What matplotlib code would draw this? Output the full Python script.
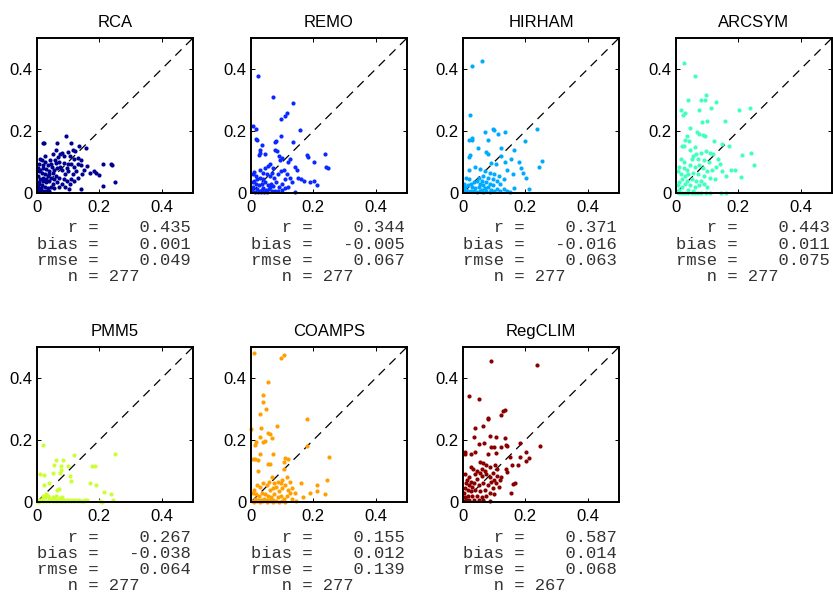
import matplotlib
matplotlib.use("Agg")
import matplotlib.pyplot as plt
import numpy as np

models = ["RCA", "REMO", "HIRHAM", "ARCSYM", "PMM5", "COAMPS", "RegCLIM"]
colors = ["#000090", "#0a28ff", "#00aaff", "#40ffbf", "#ccff33", "#ffa000", "#8a0000"]

# statistics printed under each panel
r_vals = [0.435, 0.344, 0.371, 0.443, 0.267, 0.155, 0.587]
bias_vals = [0.001, -0.005, -0.016, 0.011, -0.038, 0.012, 0.014]
rmse_vals = [0.049, 0.067, 0.063, 0.075, 0.064, 0.139, 0.068]
n_vals = [277, 277, 277, 277, 277, 277, 267]

rca_pts = [(0.093,0.185),(0.018,0.162),(0.022,0.162),(0.064,0.162),(0.108,0.160),(0.134,0.153),(0.158,0.145),
    (0.050,0.127),(0.080,0.130),(0.098,0.133),(0.116,0.138),(0.122,0.135),(0.075,0.125),(0.088,0.120),
    (0.105,0.118),(0.068,0.115),(0.118,0.110),(0.130,0.112),(0.142,0.105),(0.010,0.110),(0.015,0.105),
    (0.025,0.100),(0.005,0.095),(0.035,0.090),(0.045,0.095),(0.060,0.098),(0.070,0.100),(0.085,0.098),
    (0.100,0.092),(0.110,0.095),(0.120,0.085),(0.140,0.090),(0.160,0.086),(0.132,0.092),(0.210,0.095),
    (0.237,0.094),(0.240,0.090),(0.182,0.070),(0.190,0.065),(0.200,0.058),(0.170,0.066),(0.150,0.075),
    (0.145,0.060),(0.125,0.070),(0.115,0.060),(0.100,0.072),(0.095,0.080),(0.090,0.060),(0.080,0.075),
    (0.075,0.085),(0.065,0.080),(0.055,0.075),(0.050,0.065),(0.040,0.070),(0.030,0.078),(0.020,0.080),
    (0.010,0.075),(0.005,0.070),(0.015,0.065),(0.025,0.060),(0.035,0.055),(0.045,0.050),(0.055,0.045),
    (0.060,0.055),(0.070,0.050),(0.085,0.045),(0.095,0.040),(0.110,0.045),(0.120,0.040),(0.130,0.050),
    (0.105,0.030),(0.080,0.030),(0.065,0.035),(0.050,0.030),(0.040,0.040),(0.030,0.035),(0.020,0.040),
    (0.010,0.045),(0.005,0.035),(0.015,0.025),(0.025,0.020),(0.035,0.015),(0.045,0.020),(0.055,0.015),
    (0.070,0.020),(0.090,0.018),(0.104,0.013),(0.141,0.013),(0.212,0.022),(0.251,0.034),(0.005,0.010),
    (0.010,0.005),(0.020,0.008),(0.030,0.005),(0.040,0.005),(0.002,0.020),(0.008,0.028),(0.012,0.015),
    (0.018,0.050),(0.028,0.045),(0.038,0.060),(0.048,0.085),(0.058,0.105),(0.020,0.090),(0.004,0.055),
    (0.003,0.080),(0.042,0.108),(0.062,0.140),(0.025,0.120)]

remo_pts = [(0.023,0.378),(0.071,0.309),(0.134,0.290),(0.116,0.258),(0.110,0.250),(0.097,0.240),(0.006,0.215),
    (0.017,0.206),(0.157,0.204),(0.097,0.183),(0.017,0.174),(0.020,0.172),(0.134,0.163),(0.035,0.155),
    (0.030,0.140),(0.028,0.130),(0.025,0.124),(0.080,0.168),(0.078,0.165),(0.046,0.127),(0.076,0.138),
    (0.082,0.135),(0.178,0.123),(0.182,0.116),(0.237,0.125),(0.202,0.100),(0.241,0.083),(0.247,0.081),
    (0.090,0.118),(0.100,0.112),(0.092,0.108),(0.126,0.110),(0.118,0.100),(0.142,0.085),(0.147,0.073),
    (0.170,0.038),(0.189,0.034),(0.210,0.027),(0.202,0.038),(0.114,0.061),(0.141,0.003),(0.060,0.095),
    (0.055,0.088),(0.070,0.080),(0.045,0.082),(0.040,0.065),(0.030,0.075),(0.010,0.068),(0.005,0.060),
    (0.015,0.055),(0.020,0.045),(0.030,0.050),(0.050,0.060),(0.060,0.055),(0.068,0.065),(0.075,0.050),
    (0.085,0.060),(0.095,0.070),(0.105,0.075),(0.110,0.045),(0.125,0.050),(0.130,0.035),(0.100,0.030),
    (0.090,0.020),(0.080,0.035),(0.065,0.030),(0.055,0.025),(0.045,0.035),(0.035,0.030),(0.025,0.025),
    (0.015,0.030),(0.005,0.035),(0.008,0.020),(0.018,0.012),(0.028,0.008),(0.038,0.015),(0.048,0.010),
    (0.058,0.012),(0.068,0.005),(0.078,0.008),(0.088,0.005),(0.003,0.005),(0.012,0.003),(0.022,0.002),
    (0.032,0.004),(0.042,0.002),(0.052,0.003),(0.062,0.018),(0.072,0.022),(0.098,0.010),(0.108,0.015),
    (0.120,0.020),(0.150,0.050),(0.160,0.045),(0.010,0.040),(0.040,0.045),(0.002,0.015),(0.035,0.010)]

hirham_pts = [(0.062,0.427),(0.030,0.411),(0.021,0.253),(0.096,0.206),(0.098,0.202),(0.236,0.206),(0.072,0.196),
    (0.112,0.191),(0.134,0.196),(0.018,0.170),(0.030,0.172),(0.030,0.177),(0.080,0.170),(0.200,0.167),
    (0.121,0.145),(0.048,0.145),(0.163,0.140),(0.075,0.131),(0.080,0.127),(0.018,0.116),(0.024,0.124),
    (0.123,0.118),(0.134,0.100),(0.155,0.110),(0.252,0.104),(0.244,0.083),(0.180,0.100),(0.091,0.097),
    (0.105,0.094),(0.187,0.081),(0.019,0.073),(0.040,0.085),(0.055,0.078),(0.070,0.070),(0.085,0.065),
    (0.100,0.060),(0.115,0.055),(0.140,0.075),(0.160,0.060),(0.193,0.065),(0.201,0.048),(0.210,0.013),
    (0.164,0.016),(0.141,0.005),(0.152,0.002),(0.120,0.030),(0.130,0.045),(0.110,0.040),(0.095,0.045),
    (0.080,0.050),(0.065,0.055),(0.050,0.050),(0.060,0.040),(0.045,0.040),(0.035,0.035),(0.025,0.030),
    (0.015,0.025),(0.005,0.020),(0.010,0.050),(0.020,0.045),(0.030,0.020),(0.040,0.015),(0.050,0.020),
    (0.060,0.010),(0.070,0.015),(0.080,0.020),(0.090,0.010),(0.100,0.005),(0.110,0.012),(0.120,0.008),
    (0.075,0.035),(0.085,0.030),(0.055,0.030),(0.065,0.025),(0.005,0.005),(0.015,0.008),(0.025,0.005),
    (0.035,0.008),(0.045,0.004),(0.055,0.006),(0.065,0.003),(0.075,0.005),(0.085,0.003),(0.002,0.030),
    (0.008,0.012),(0.130,0.012),(0.095,0.025)]

arcsym_pts = [(0.025,0.419),(0.062,0.378),(0.038,0.301),(0.096,0.317),(0.081,0.301),(0.094,0.301),(0.128,0.292),
    (0.113,0.274),(0.017,0.269),(0.028,0.258),(0.021,0.253),(0.075,0.269),(0.201,0.269),(0.236,0.274),
    (0.083,0.228),(0.099,0.231),(0.156,0.231),(0.046,0.210),(0.067,0.196),(0.073,0.191),(0.035,0.183),
    (0.030,0.172),(0.092,0.185),(0.085,0.188),(0.121,0.167),(0.147,0.159),(0.169,0.151),(0.019,0.151),
    (0.025,0.153),(0.041,0.167),(0.212,0.124),(0.240,0.129),(0.249,0.089),(0.177,0.075),(0.190,0.073),
    (0.207,0.051),(0.148,0.070),(0.160,0.055),(0.110,0.130),(0.120,0.125),(0.095,0.135),(0.080,0.130),
    (0.065,0.125),(0.055,0.120),(0.050,0.110),(0.070,0.110),(0.090,0.105),(0.105,0.100),(0.135,0.110),
    (0.140,0.095),(0.128,0.085),(0.115,0.075),(0.100,0.070),(0.085,0.080),(0.075,0.090),(0.060,0.085),
    (0.045,0.090),(0.035,0.075),(0.025,0.080),(0.010,0.085),(0.005,0.070),(0.015,0.060),(0.030,0.055),
    (0.040,0.060),(0.055,0.065),(0.070,0.060),(0.090,0.055),(0.110,0.050),(0.125,0.045),(0.080,0.040),
    (0.065,0.040),(0.050,0.045),(0.035,0.040),(0.020,0.045),(0.010,0.035),(0.005,0.025),(0.020,0.020),
    (0.030,0.030),(0.045,0.025),(0.060,0.020),(0.075,0.025),(0.090,0.030),(0.100,0.020),(0.040,0.010),
    (0.055,0.008),(0.010,0.010),(0.003,0.003),(0.010,0.001),(0.020,0.001),(0.030,0.001),(0.040,0.001),
    (0.050,0.001),(0.060,0.001),(0.070,0.001),(0.080,0.001),(0.095,0.001),(0.110,0.001),(0.143,0.001),
    (0.160,0.001),(0.025,0.100),(0.015,0.110),(0.045,0.140),(0.060,0.150)]

pmm5_pts = [(0.019,0.183),(0.009,0.091),(0.021,0.086),(0.024,0.054),(0.038,0.061),(0.062,0.134),(0.083,0.134),
    (0.118,0.151),(0.056,0.118),(0.075,0.094),(0.078,0.102),(0.099,0.115),(0.107,0.083),(0.108,0.067),
    (0.051,0.094),(0.071,0.043),(0.064,0.040),(0.076,0.115),(0.177,0.115),(0.185,0.115),(0.171,0.061),
    (0.190,0.054),(0.251,0.154),(0.214,0.032),(0.238,0.027),(0.244,0.008),(0.201,0.002),(0.209,0.001),
    (0.160,0.008),(0.030,0.025),(0.035,0.018),(0.040,0.012),(0.025,0.015),(0.015,0.010),(0.005,0.005),
    (0.010,0.002),(0.020,0.003),(0.030,0.004),(0.040,0.002),(0.050,0.003),(0.060,0.004),(0.070,0.002),
    (0.080,0.003),(0.090,0.002),(0.100,0.003),(0.110,0.002),(0.120,0.003),(0.130,0.002),(0.140,0.003),
    (0.150,0.002),(0.045,0.008),(0.055,0.010),(0.065,0.008),(0.075,0.012),(0.085,0.008),(0.095,0.006),
    (0.105,0.005),(0.115,0.006),(0.125,0.005),(0.135,0.006),(0.145,0.004),(0.155,0.005),(0.050,0.015),
    (0.060,0.018),(0.080,0.015),(0.020,0.020),(0.012,0.006),(0.002,0.001)]

coamps_pts = [(0.009,0.482),(0.105,0.475),(0.097,0.466),(0.054,0.386),(0.038,0.344),(0.038,0.323),(0.049,0.299),
    (0.030,0.283),(0.001,0.237),(0.032,0.240),(0.082,0.245),(0.180,0.267),(0.054,0.223),(0.062,0.218),
    (0.028,0.210),(0.067,0.208),(0.017,0.194),(0.014,0.183),(0.039,0.194),(0.045,0.196),(0.028,0.154),
    (0.006,0.140),(0.014,0.140),(0.021,0.137),(0.071,0.154),(0.178,0.181),(0.250,0.145),(0.110,0.142),
    (0.118,0.140),(0.054,0.124),(0.062,0.124),(0.105,0.129),(0.023,0.099),(0.105,0.105),(0.068,0.080),
    (0.058,0.065),(0.085,0.065),(0.095,0.060),(0.115,0.080),(0.125,0.065),(0.212,0.056),(0.210,0.035),
    (0.242,0.070),(0.238,0.027),(0.189,0.029),(0.161,0.061),(0.167,0.016),(0.140,0.030),(0.145,0.003),
    (0.130,0.010),(0.120,0.040),(0.110,0.055),(0.100,0.045),(0.090,0.035),(0.080,0.050),(0.070,0.045),
    (0.060,0.040),(0.050,0.055),(0.040,0.060),(0.030,0.050),(0.020,0.055),(0.010,0.040),(0.005,0.030),
    (0.015,0.025),(0.025,0.020),(0.035,0.030),(0.045,0.025),(0.055,0.020),(0.065,0.015),(0.075,0.025),
    (0.085,0.015),(0.095,0.020),(0.105,0.010),(0.115,0.020),(0.125,0.030),(0.003,0.003),(0.010,0.001),
    (0.020,0.002),(0.030,0.001),(0.040,0.002),(0.050,0.001),(0.060,0.002),(0.070,0.001),(0.080,0.002),
    (0.090,0.001),(0.100,0.002),(0.110,0.001),(0.012,0.010),(0.022,0.008),(0.032,0.006),(0.042,0.010),
    (0.052,0.008),(0.062,0.005),(0.072,0.008),(0.130,0.045),(0.100,0.070),(0.075,0.060)]

regclim_pts = [(0.091,0.455),(0.236,0.443),(0.019,0.341),(0.051,0.331),(0.134,0.298),(0.128,0.294),(0.123,0.280),
    (0.080,0.272),(0.080,0.268),(0.064,0.245),(0.037,0.240),(0.035,0.210),(0.088,0.212),(0.107,0.210),
    (0.134,0.208),(0.051,0.188),(0.066,0.190),(0.182,0.191),(0.248,0.180),(0.137,0.185),(0.141,0.181),
    (0.123,0.177),(0.091,0.177),(0.098,0.177),(0.005,0.161),(0.005,0.154),(0.027,0.156),(0.037,0.161),
    (0.080,0.154),(0.107,0.158),(0.201,0.161),(0.150,0.145),(0.182,0.145),(0.212,0.142),(0.201,0.131),
    (0.177,0.120),(0.156,0.120),(0.054,0.130),(0.064,0.125),(0.027,0.113),(0.032,0.108),(0.075,0.118),
    (0.085,0.112),(0.102,0.118),(0.108,0.108),(0.139,0.108),(0.141,0.096),(0.123,0.080),(0.118,0.070),
    (0.166,0.061),(0.161,0.057),(0.155,0.029),(0.086,0.002),(0.020,0.080),(0.025,0.065),(0.030,0.050),
    (0.040,0.090),(0.045,0.075),(0.055,0.095),(0.060,0.085),(0.070,0.100),(0.075,0.090),(0.085,0.080),
    (0.095,0.095),(0.100,0.070),(0.105,0.060),(0.110,0.085),(0.115,0.050),(0.095,0.045),(0.080,0.055),
    (0.065,0.060),(0.050,0.055),(0.035,0.060),(0.020,0.055),(0.010,0.060),(0.005,0.045),(0.015,0.040),
    (0.025,0.035),(0.040,0.040),(0.055,0.035),(0.070,0.040),(0.085,0.030),(0.100,0.025),(0.075,0.020),
    (0.060,0.015),(0.045,0.020),(0.030,0.020),(0.015,0.020),(0.005,0.015),(0.010,0.005),(0.020,0.005),
    (0.035,0.005),(0.050,0.008),(0.065,0.005),(0.003,0.030),(0.012,0.070),(0.008,0.090),(0.045,0.100),
    (0.060,0.105),(0.090,0.065)]

all_pts = [rca_pts, remo_pts, hirham_pts, arcsym_pts, pmm5_pts, coamps_pts, regclim_pts]

fig = plt.figure(figsize=(8.33, 5.92), dpi=100)

lefts = [37, 251, 463, 676, 37, 251, 463]
bottoms = [193, 193, 193, 193, 502, 502, 502]
w, h = 156, 155

for i, name in enumerate(models):
    ax = fig.add_axes([lefts[i] / 833, 1 - bottoms[i] / 592, w / 833, h / 592])
    pts = np.array(all_pts[i])
    ax.plot([0, 0.5], [0, 0.5], color="black", linestyle=(0, (7, 5)), linewidth=0.9)
    ax.plot(pts[:, 0], pts[:, 1], "o", color=colors[i], markersize=3.0, markeredgewidth=0, clip_on=False)
    ax.set_xlim(0, 0.5)
    ax.set_ylim(0, 0.5)
    ax.set_xticks([0, 0.2, 0.4])
    ax.set_yticks([0, 0.2, 0.4])
    ax.set_xticklabels(["0", "0.2", "0.4"], fontfamily="Liberation Sans")
    ax.set_yticklabels(["0", "0.2", "0.4"], fontfamily="Liberation Sans")
    ax.tick_params(direction="in", length=3, width=0.7, top=True, right=True, labelsize=12)
    ax.tick_params(axis="x", pad=5)
    ax.tick_params(axis="y", pad=3)
    for s in ax.spines.values():
        s.set_linewidth(1.4)
    ax.set_title(name, fontsize=12, fontfamily="Liberation Sans", pad=8)

    lines = ["%4s = %8.3f" % ("r", r_vals[i]),
             "%4s = %8.3f" % ("bias", bias_vals[i]),
             "%4s = %8.3f" % ("rmse", rmse_vals[i]),
             "%4s = %3d" % ("n", n_vals[i])]
    for k, txt in enumerate(lines):
        ax.text(0, -(35 + 16.2 * k) / h, txt, transform=ax.transAxes, ha="left", va="center",
                fontsize=12.3, fontfamily="Liberation Mono", color="#333333")

fig.savefig("out.png", dpi=100)
